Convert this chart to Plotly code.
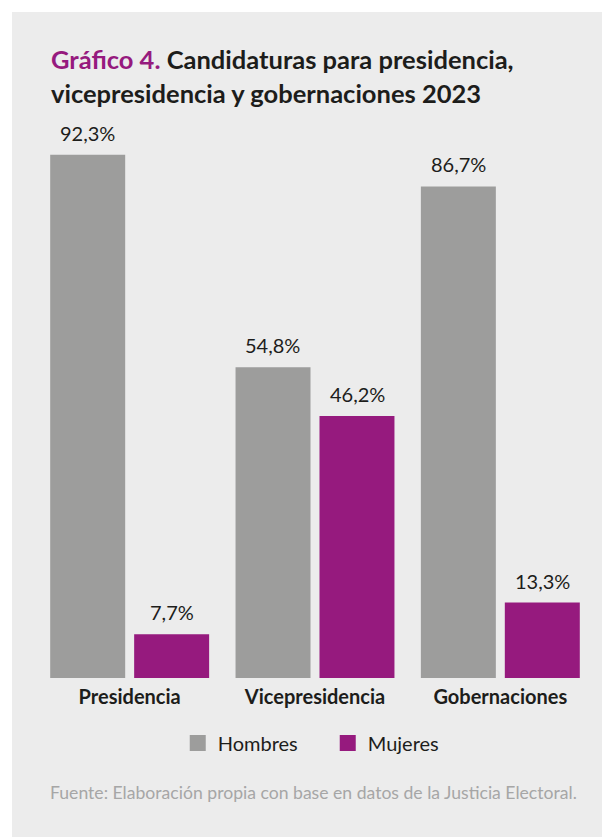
import plotly.graph_objects as go

categories = ["Presidencia", "Vicepresidencia", "Gobernaciones"]
hombres = [92.3, 54.8, 86.7]
mujeres = [7.7, 46.2, 13.3]
series_names = ["Hombres", "Mujeres"]
colors = ["#9d9d9c", "#961a7e"]

# page has an 8px body margin, so the figure is 8px smaller than the window
OFF = 8
W, H = 610 - OFF, 837 - OFF
ml, mt = 29, 103
plot_w, plot_h = 556.5, 567
mr = W - ml - plot_w
mb = H - mt - plot_h
FONT = "Lato"
TXT = "#1d1d1b"

def px_x(x):  # reference pixel -> paper x
    return (x - OFF - ml) / plot_w

def px_y(y):  # reference pixel -> paper y
    return 1 - (y - OFF - mt) / plot_h

def fmt(v):
    return f"{v:.1f}".replace(".", ",") + "%"

fig = go.Figure()
for name, vals, col in zip(series_names, [hombres, mujeres], colors):
    fig.add_trace(go.Bar(
        x=categories, y=vals, name=name, marker_color=col,
        marker_line_width=0, hoverinfo="skip", showlegend=False,
    ))
# legend entries (square swatches)
for name, col in zip(series_names, colors):
    fig.add_trace(go.Scatter(
        x=[None], y=[None], mode="markers", name=name,
        marker=dict(symbol="square", size=22, color=col), hoverinfo="skip",
    ))

bargap, bargroupgap = 0.094, 0.107
slot = plot_w / len(categories) * (1 - bargap) / 2
annotations = []
for i, vals in enumerate([hombres, mujeres]):
    xs = (-0.5 + i) * slot
    for c, v in zip(categories, vals):
        annotations.append(dict(
            x=c, y=v, xref="x", yref="y", text=fmt(v), showarrow=False,
            xshift=xs, yshift=8, yanchor="bottom",
            font=dict(family=FONT, size=20, color=TXT),
        ))

# title (two lines, reference line spacing)
title_lines = [
    "<span style='color:#961a7e'>Gráfico 4.</span> Candidaturas para presidencia,",
    "vicepresidencia y gobernaciones 2023",
]
for line, base in zip(title_lines, [70, 104]):
    annotations.append(dict(
        xref="paper", yref="paper", x=px_x(49), y=px_y(base + 6),
        xanchor="left", yanchor="bottom", align="left", showarrow=False,
        text=line, font=dict(family=FONT, size=25.5, color=TXT, weight="bold"),
    ))
# source
annotations.append(dict(
    xref="paper", yref="paper", x=px_x(48), y=px_y(792),
    xanchor="left", yanchor="middle", showarrow=False,
    text="Fuente: Elaboración propia con base en datos de la Justicia Electoral.",
    font=dict(family=FONT, size=17.6, color="#a6a6a6"),
))

fig.add_shape(type="rect", xref="paper", yref="paper", layer="below",
              x0=px_x(12), x1=px_x(620), y0=px_y(850), y1=px_y(12),
              fillcolor="#ececec", line_width=0)

fig.update_layout(
    width=W, height=H,
    margin=dict(l=ml, r=mr, t=mt, b=mb),
    paper_bgcolor="white", plot_bgcolor="rgba(0,0,0,0)",
    barmode="group", bargap=bargap, bargroupgap=bargroupgap,
    showlegend=True,
    legend=dict(orientation="h", x=px_x(328), xanchor="center",
                y=px_y(743), yanchor="middle", bgcolor="rgba(0,0,0,0)",
                font=dict(family=FONT, size=20, color=TXT),
                itemwidth=30, traceorder="normal", itemsizing="trace",
                entrywidth=105, entrywidthmode="pixels"),
    annotations=annotations,
    xaxis=dict(showgrid=False, showline=False, zeroline=False, ticks="",
               ticklabelstandoff=5,
               tickfont=dict(family=FONT, size=20, color=TXT, weight="bold")),
    yaxis=dict(range=[0, 100], visible=False, showgrid=False, zeroline=False),
)

fig.write_html("out.html")
